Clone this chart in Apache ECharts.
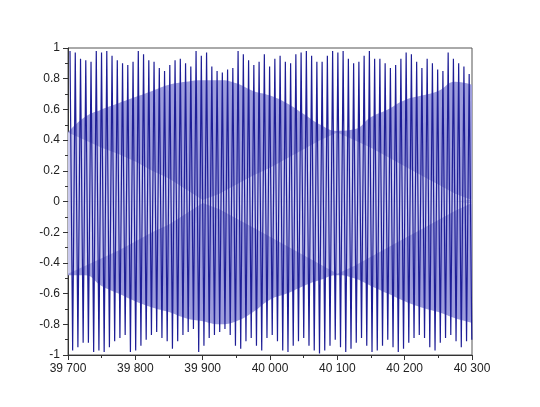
<!DOCTYPE html>
<html>
<head>
<meta charset="utf-8">
<script src="https://cdn.jsdelivr.net/npm/echarts@6/dist/echarts.min.js"></script>
<style>
  html, body { margin: 0; padding: 0; background: #fff; }
  #chart { width: 540px; height: 407px; }
</style>
</head>
<body>
<div id="chart"></div>
<script>
// stroke tips of the signal (one top and one bottom tip per period)
const firstTop = 39703
const period = 7.8
const topTips = [
  0.98, 0.97, 0.93, 0.92, 0.91, 0.98, 0.97, 0.98, 0.95, 0.92,
  0.90, 0.89, 0.91, 0.98, 0.96, 0.92, 0.91, 0.87, 0.85, 0.89,
  0.92, 0.93, 0.90, 0.88, 0.98, 0.95, 0.97, 0.88, 0.85, 0.84,
  0.86, 0.87, 0.98, 0.96, 0.92, 0.89, 0.91, 0.96,
  0.88, 0.93, 0.95, 0.91, 0.90, 0.96, 0.97, 0.98, 0.95, 0.91,
  0.91, 0.95, 0.98, 0.97, 0.98, 0.93, 0.90, 0.91, 0.95, 0.98,
  0.93, 0.93, 0.90, 0.87, 0.89, 0.93, 0.97, 0.96, 0.91, 0.87,
  0.93, 0.90, 0.86, 0.85, 0.97, 0.93, 0.90, 0.88, 0.83
]
const bottomTips = [
  -0.97, -0.95, -0.92, -0.92, -0.98, -0.97, -0.98, -0.95, -0.91, -0.89,
  -0.87, -0.98, -0.97, -0.94, -0.90, -0.87, -0.85, -0.89, -0.91, -0.96,
  -0.91, -0.87, -0.85, -0.83, -0.98, -0.94, -0.89, -0.87, -0.85, -0.83,
  -0.87, -0.94, -0.96, -0.91, -0.89, -0.94, -0.97,
  -0.89, -0.87, -0.91, -0.97, -0.98, -0.94, -0.91, -0.89, -0.94, -0.97,
  -0.99, -0.97, -0.94, -0.90, -0.95, -0.98, -0.96, -0.92, -0.89, -0.94,
  -0.98, -0.97, -0.94, -0.90, -0.95, -0.98, -0.96, -0.92, -0.89, -0.87,
  -0.89, -0.95, -0.97, -0.92, -0.89, -0.87, -0.91, -0.95, -0.91, -0.90
]

// moire pattern: outer limits of the light band and the crossing curves inside it
const envX = [
  39700, 39725, 39750, 39775, 39800, 39825, 39850, 39875, 39900, 39925,
  39950, 39975, 40000, 40025, 40050, 40075, 40100, 40125, 40150, 40175,
  40200, 40225, 40250, 40275, 40300
]
const envTop = [
  0.45, 0.55, 0.60, 0.64, 0.68, 0.72, 0.76, 0.78, 0.79, 0.79,
  0.77, 0.72, 0.69, 0.64, 0.57, 0.50, 0.46, 0.47, 0.55, 0.60,
  0.66, 0.69, 0.72, 0.78, 0.76
]
const envBottom = [
  -0.48, -0.48, -0.55, -0.60, -0.65, -0.69, -0.72, -0.76, -0.78, -0.80,
  -0.78, -0.72, -0.64, -0.60, -0.55, -0.51, -0.48, -0.50, -0.55, -0.60,
  -0.65, -0.69, -0.72, -0.76, -0.79
]
const crossTop = [
  0.45, 0.40, 0.35, 0.31, 0.26, 0.20, 0.15, 0.08, 0.01, 0.05,
  0.11, 0.17, 0.22, 0.28, 0.34, 0.40, 0.45, 0.40, 0.35, 0.29,
  0.23, 0.17, 0.11, 0.05, 0.01
]
const crossBottom = [
  -0.47, -0.42, -0.37, -0.32, -0.26, -0.20, -0.15, -0.08, -0.01, -0.05,
  -0.11, -0.17, -0.23, -0.29, -0.35, -0.41, -0.47, -0.42, -0.36, -0.30,
  -0.24, -0.18, -0.12, -0.06, -0.01
]

const wave = []
topTips.forEach((v, i) => {
  wave.push([firstTop + i * period, v])
  wave.push([firstTop + i * period + period / 2, bottomTips[i]])
})

const thin = v => String(v).replace(/\B(?=(\d{3})+(?!\d))/g, ' ')

const band = (name, values, color, smooth, z) => ({
  name: name,
  type: 'line',
  data: envX.map((x, i) => [x, values[i]]),
  smooth: smooth,
  symbol: 'none',
  silent: true,
  lineStyle: { width: 0 },
  areaStyle: { color: color, opacity: 1 },
  z: z
})

const chart = echarts.init(document.getElementById('chart'))
chart.setOption({
  animation: false,
  textStyle: { fontFamily: 'Liberation Sans', fontSize: 10, color: '#222' },
  grid: {
    left: 68, right: 68, top: 48, bottom: 52,
    show: true, borderColor: '#555', borderWidth: 1
  },
  xAxis: {
    type: 'value',
    min: 39700,
    max: 40300,
    interval: 100,
    axisLine: { show: true, onZero: false, lineStyle: { color: '#333' } },
    axisTick: { show: true, length: 5, lineStyle: { color: '#333' } },
    minorTick: { show: true, splitNumber: 2, length: 3, lineStyle: { color: '#333' } },
    splitLine: { show: false },
    axisLabel: { margin: 8, color: '#222', formatter: thin }
  },
  yAxis: {
    type: 'value',
    min: -1,
    max: 1,
    interval: 0.2,
    axisLine: { show: true, onZero: false, lineStyle: { color: '#333' } },
    axisTick: { show: true, length: 5, lineStyle: { color: '#333' } },
    minorTick: { show: true, splitNumber: 2, length: 3, lineStyle: { color: '#333' } },
    splitLine: { show: false },
    axisLabel: { margin: 8, color: '#222' }
  },
  series: [
    band('bandTop', envTop, '#9d9ddc', true, 1),
    band('bandBottom', envBottom, '#9d9ddc', true, 1),
    band('crossTop', crossTop, '#cbcbef', false, 2),
    band('crossBottom', crossBottom, '#cbcbef', false, 2),
    {
      name: 'signal',
      type: 'line',
      data: wave,
      symbol: 'none',
      lineStyle: { width: 1.2, color: '#1e1e96' },
      z: 3
    }
  ]
})
</script>
</body>
</html>
